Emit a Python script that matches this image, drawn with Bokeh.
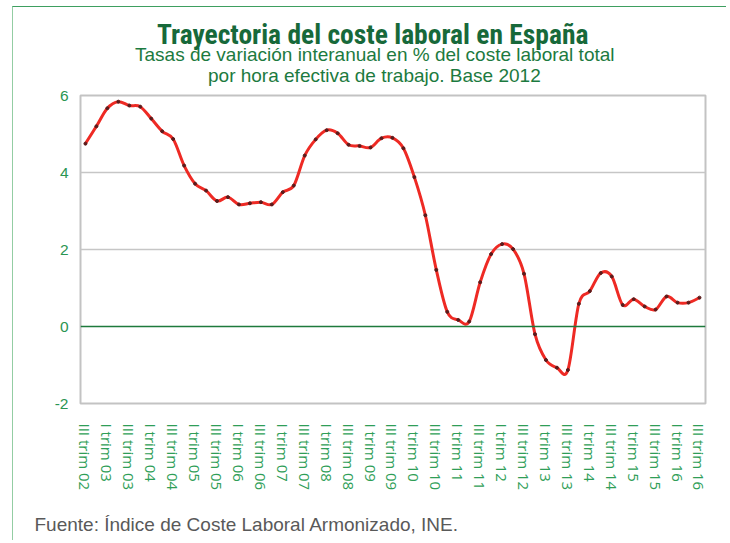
from bokeh.plotting import figure
from bokeh.models import FixedTicker, Span, Title, ColumnDataSource
from bokeh.embed import file_html
from bokeh.resources import INLINE

# Quarterly year-on-year change (%) of total labour cost per effective hour, III trim 02 .. III trim 16
rates = [4.75, 5.20, 5.67, 5.84, 5.74, 5.71, 5.40, 5.07, 4.87, 4.18,
         3.71, 3.53, 3.26, 3.36, 3.17, 3.20, 3.23, 3.17, 3.49, 3.66,
         4.44, 4.86, 5.10, 5.02, 4.72, 4.69, 4.65, 4.89, 4.90, 4.63,
         3.88, 2.89, 1.47, 0.38, 0.17, 0.13, 1.15, 1.88, 2.14, 2.01,
         1.37, -0.20, -0.87, -1.07, -1.13, 0.59, 0.92, 1.39, 1.30, 0.56,
         0.71, 0.52, 0.44, 0.78, 0.62, 0.62, 0.75]

tick_labels = ["III trim 02", "I trim 03", "III trim 03", "I trim 04", "III trim 04",
               "I trim 05", "III trim 05", "I trim 06", "III trim 06", "I trim 07",
               "III trim 07", "I trim 08", "III trim 08", "I trim 09", "III trim 09",
               "I trim 10", "III trim 10", "I trim 11", "III trim 11", "I trim 12",
               "III trim 12", "I trim 13", "III trim 13", "I trim 14", "III trim 14",
               "I trim 15", "III trim 15", "I trim 16", "III trim 16"]

y_ticks = [-2, 0, 2, 4, 6]
y_tick_labels = ["-2", "0", "2", "4", "6"]

title_text = "Trayectoria del coste laboral en España"
subtitle_1 = "Tasas de variación interanual en % del coste laboral total"
subtitle_2 = "por hora efectiva de trabajo. Base 2012"
source_text = "Fuente: Índice de Coste Laboral Armonizado, INE."

n = len(rates)
xs = list(range(n))
tick_pos = list(range(0, n, 2))

p = figure(width=714, height=534, output_backend="svg", toolbar_location=None,
           x_range=(-0.45, n - 1 + 0.55), y_range=(-2, 6),
           min_border_left=67, min_border_right=22, min_border_top=88, min_border_bottom=138)
p.margin = (6, 0, 0, 12)
p.styles = {"border-top": "1.5px solid #3e9f60", "border-left": "1.5px solid #93cda3"}

p.outline_line_color = "#c3c3c3"
p.outline_line_width = 2
p.background_fill_color = "white"
p.border_fill_color = "white"

# axes
p.xaxis.ticker = FixedTicker(ticks=tick_pos)
p.xaxis.major_label_overrides = {pos: lab for pos, lab in zip(tick_pos, tick_labels)}
p.xaxis.major_label_orientation = "vertical"
p.xaxis.axis_line_color = None
p.xaxis.major_tick_line_color = None
p.xaxis.minor_tick_line_color = None
p.xaxis.major_label_standoff = 14
p.xaxis.major_label_text_font = "Open Sans"
p.xaxis.major_label_text_font_size = "15px"
p.xaxis.major_label_text_color = "#2f9e57"

p.yaxis.ticker = FixedTicker(ticks=y_ticks)
p.yaxis.major_label_overrides = {t: s for t, s in zip(y_ticks, y_tick_labels)}
p.yaxis.axis_line_color = None
p.yaxis.major_tick_line_color = None
p.yaxis.minor_tick_line_color = None
p.yaxis.major_label_standoff = 6
p.yaxis.major_label_text_font = "Liberation Sans"
p.yaxis.major_label_text_font_size = "15.5px"
p.yaxis.major_label_text_color = "#2a9552"

p.xgrid.grid_line_color = None
p.ygrid.ticker = FixedTicker(ticks=[2, 4])
p.ygrid.grid_line_color = "#c6c6c6"
p.ygrid.grid_line_width = 1.5

p.add_layout(Span(location=0, dimension="width", line_color="#1e7a3c", line_width=1.5))

# smoothed line (cubic Bezier segments through the data points)
x0, y0, x1, y1, cx0, cy0, cx1, cy1 = [], [], [], [], [], [], [], []
for i in range(n - 1):
    pm = max(i - 1, 0)
    pp = min(i + 2, n - 1)
    x0.append(xs[i]); y0.append(rates[i])
    x1.append(xs[i + 1]); y1.append(rates[i + 1])
    cx0.append(xs[i] + (xs[i + 1] - xs[pm]) / 6.0)
    cy0.append(rates[i] + (rates[i + 1] - rates[pm]) / 6.0)
    cx1.append(xs[i + 1] - (xs[pp] - xs[i]) / 6.0)
    cy1.append(rates[i + 1] - (rates[pp] - rates[i]) / 6.0)
bsrc = ColumnDataSource(dict(x0=x0, y0=y0, x1=x1, y1=y1, cx0=cx0, cy0=cy0, cx1=cx1, cy1=cy1))
p.bezier(x0="x0", y0="y0", x1="x1", y1="y1", cx0="cx0", cy0="cy0", cx1="cx1", cy1="cy1",
         source=bsrc, line_color="#ee2a24", line_width=3)
p.scatter(xs, rates, size=3, color="#5a1c1c", marker="circle")

# titles: "above" panels stack outward from the frame in the order they are added
p.add_layout(Title(text=" ", text_font_size="1px", text_line_height=1.0, standoff=6.5), "above")
p.add_layout(Title(text=subtitle_2, align="left", offset=127.5, text_font="Liberation Sans",
                   text_font_size="19px", text_font_style="normal", text_color="#1c7a40",
                   text_line_height=1.0, standoff=0), "above")
p.add_layout(Title(text=subtitle_1, align="left", offset=54.5, text_font="Liberation Sans",
                   text_font_size="19px", text_font_style="normal", text_color="#1c7a40",
                   text_line_height=1.0, standoff=-4), "above")
p.add_layout(Title(text=title_text, align="left", offset=76.5,
                   text_font="Roboto Condensed, DejaVu Sans Condensed, Liberation Sans",
                   text_font_size="27.5px", text_font_style="bold", text_color="#17693a",
                   text_line_height=1.0, standoff=-15), "above")

# source line below the axis labels
p.add_layout(Title(text=" ", text_font_size="1px", text_line_height=1.0, standoff=14), "below")
p.add_layout(Title(text=source_text, align="left", offset=-46, text_font="Liberation Sans",
                   text_font_size="19px", text_font_style="normal", text_color="#595959",
                   text_line_height=1.0, standoff=2), "below")

open("out.html", "w").write(file_html(p, INLINE))
